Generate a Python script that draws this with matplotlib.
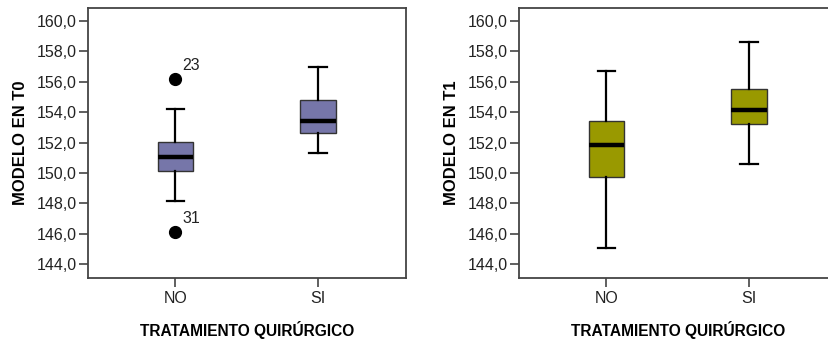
import matplotlib
matplotlib.use("Agg")
import matplotlib.pyplot as plt
from matplotlib.ticker import FuncFormatter

plt.rcParams['font.family'] = ['Liberation Sans', 'DejaVu Sans']

categories = ["NO", "SI"]
ylabels = ["MODELO EN T0", "MODELO EN T1"]
xlabel = "TRATAMIENTO QUIRÚRGICO"

# T0 box stats: whislo, q1, med, q3, whishi
t0_whislo = [148.15, 151.3]
t0_q1 = [150.1, 152.65]
t0_med = [151.07, 153.45]
t0_q3 = [152.05, 154.8]
t0_whishi = [154.2, 157.0]
t0_outliers = [[156.2, 146.1], []]
t0_outlier_ids = [["23", "31"], []]

# T1 box stats
t1_whislo = [145.05, 150.6]
t1_q1 = [149.75, 153.25]
t1_med = [151.85, 154.15]
t1_q3 = [153.45, 155.55]
t1_whishi = [156.72, 158.65]
t1_outliers = [[], []]
t1_outlier_ids = [[], []]

yticks = [144, 146, 148, 150, 152, 154, 156, 158, 160]

W, H = 829, 341
fig = plt.figure(figsize=(W / 100, H / 100), dpi=100)

def px_axes(x0, x1, ytop, ybot):
    return [x0 / W, 1 - ybot / H, (x1 - x0) / W, (ybot - ytop) / H]

panels = [
    (px_axes(88, 406, 8, 278), "#7676A9", t0_whislo, t0_q1, t0_med, t0_q3, t0_whishi, t0_outliers, t0_outlier_ids, ylabels[0]),
    (px_axes(519, 837, 8, 278), "#999900", t1_whislo, t1_q1, t1_med, t1_q3, t1_whishi, t1_outliers, t1_outlier_ids, ylabels[1]),
]

for rect, color, wl, q1, med, q3, wh, outs, ids, ylab in panels:
    ax = fig.add_axes(rect)
    stats = []
    for i in range(len(categories)):
        stats.append(dict(whislo=wl[i], q1=q1[i], med=med[i], q3=q3[i], whishi=wh[i], fliers=[], label=categories[i]))
    ax.bxp(stats, positions=list(range(len(categories))), widths=0.25, patch_artist=True,
           showfliers=False,
           boxprops=dict(facecolor=color, edgecolor="#333333", linewidth=1.0),
           medianprops=dict(color="black", linewidth=3.2, solid_capstyle="butt"),
           whiskerprops=dict(color="black", linewidth=1.6),
           capprops=dict(color="black", linewidth=1.6),
           capwidths=0.125)
    for i, (vals, labs) in enumerate(zip(outs, ids)):
        for v, lab in zip(vals, labs):
            ax.plot(i, v, "o", color="black", markersize=8.5, zorder=5)
            ax.annotate(lab, (i, v), xytext=(5, 4.5), textcoords="offset points",
                        fontsize=11.5, color="#222222", ha="left", va="bottom")
    ax.set_xlim(-0.613, 1.617)
    ax.set_ylim(143.08, 160.86)
    ax.set_yticks(yticks)
    ax.yaxis.set_major_formatter(FuncFormatter(lambda v, p: f"{v:.1f}".replace(".", ",")))
    ax.set_xticks(range(len(categories)))
    ax.set_xticklabels(categories)
    ax.tick_params(axis="both", direction="out", length=6.5, width=1.2, color="#444444",
                   labelsize=11.5, labelcolor="#222222", pad=1.5)
    ax.tick_params(axis="x", pad=3)
    for s in ax.spines.values():
        s.set_color("#444444")
        s.set_linewidth(1.3)
    ax.set_ylabel(ylab, fontsize=12, fontweight="bold", labelpad=6)
    ax.set_xlabel(xlabel, fontsize=11.2, fontweight="bold", labelpad=11)
    ax.grid(False)

fig.savefig("out.png", dpi=100)
